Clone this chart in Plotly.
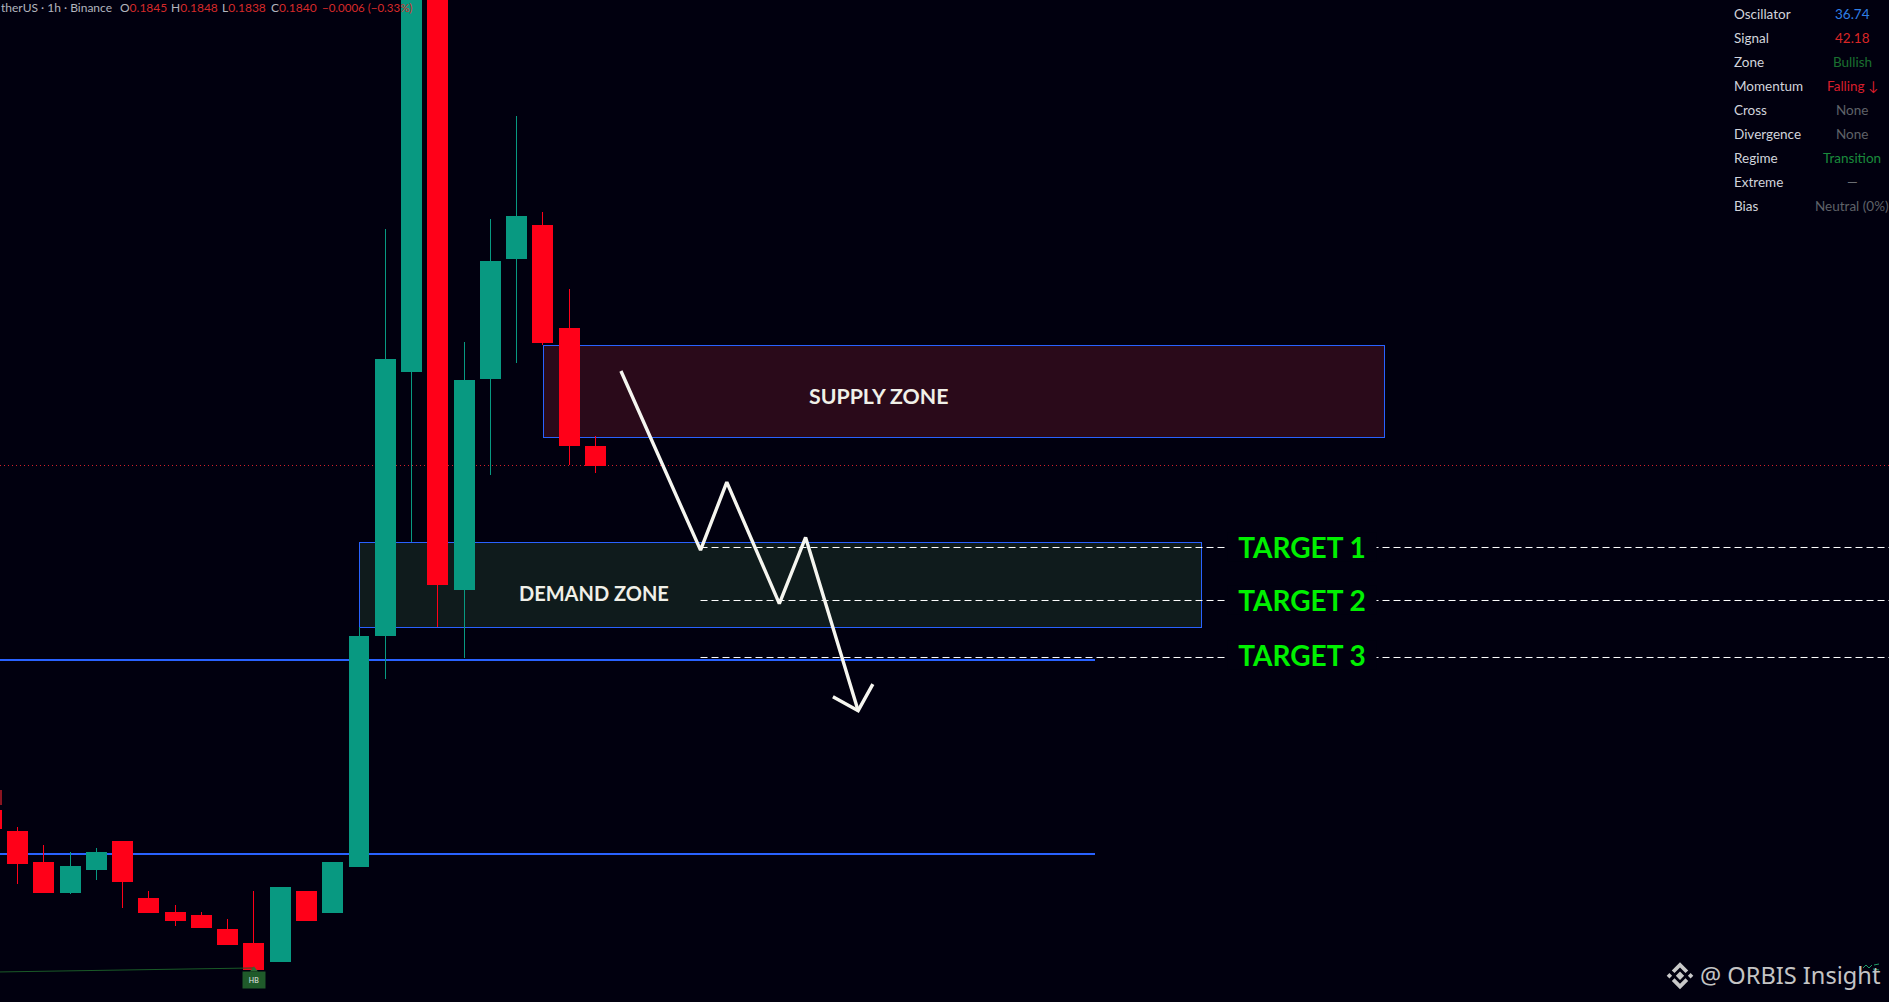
import plotly.graph_objects as go

# ---------- data ----------
candle_index = list(range(-1, 23))
open_ = [.17479,.17423,.17340,.17260,.17319,.17396,.17244,.17206,.17198,.17161,.17123,.17073,.17262,.17204,
         .17327,.17947,.18653,.1985,.18070,.18634,.18955,.19041,.18768,.1845]
high_ = [.17479,.17434,.17385,.17367,.17377,.17396,.17262,.17225,.17206,.17188,.17262,.17273,.17262,.17340,
         .17968,.19033,.1995,.1995,.18730,.19059,.19335,.19078,.18872,.1848]
low_  = [.17431,.17281,.17260,.17254,.17292,.17217,.17204,.17169,.17166,.17121,.17054,.17073,.17185,.17204,
         .17327,.17829,.18196,.17968,.17886,.18375,.18674,.18722,.18402,.1838]
close_= [.17431,.17337,.17260,.17329,.17367,.17289,.17204,.17185,.17166,.17121,.17054,.17273,.17185,.17340,
         .17942,.18685,.1995,.18081,.18629,.18947,.19067,.18728,.18455,.1840]

supply_zone = dict(x0=20.023, x1=52.037, y0=.184753, y1=.187212)
demand_zone = dict(x0=13.019, x1=45.071, y0=.179673, y1=.181945)
level_prices = [.178804, .173617]
level_end = 41.02
last_price = .184004
target_names = ["TARGET 1", "TARGET 2", "TARGET 3"]
target_prices = [.181812, .180395, .178871]
target_label_prices = [.18182, .18040, .17893]
target_start = 26.0
target_label_x = 48.9
path_x = [22.97, 26.0, 27.0, 29.0, 30.0, 32.0]
path_y = [.18653, .18174, .18356, .18031, .18208, .17745]
head_x = [31.04, 32.0, 32.56]
head_y = [.17782, .17745, .17816]
ma_x = [-1, 9]
ma_y = [.17046, .17057]
hb_x, hb_y = 9, .17025
edge_mark_y = [.17492, .17533]

header_labels = ["therUS · 1h · Binance", "O", "H", "L", "C"]
header_values = ["", "0.1845", "0.1848", "0.1838", "0.1840"]
header_change = "−0.0006 (−0.33%)"

table_labels = ["Oscillator","Signal","Zone","Momentum","Cross","Divergence","Regime","Extreme","Bias"]
table_values = ["36.74","42.18","Bullish","Falling ↓","None","None","Transition","—","Neutral (0%)"]
table_colors = ["#2f7fe6","#d92626","#1b7030","#d81e2c","#5f6268","#5f6268","#1a8a3c","#6a6d73","#5f6268"]

# ---------- style ----------
W, H = 1889, 1002
BG = "#01000f"
BLUE = "#2962ff"
GREEN = "#089981"
RED = "#ff0018"
UI = "Lato"
X_RANGE = [-0.666, 71.24]
Y_RANGE = [.16966, .19645]

fig = go.Figure()
fig.add_trace(go.Candlestick(
    x=candle_index, open=open_, high=high_, low=low_, close=close_,
    increasing=dict(line=dict(color=GREEN, width=1), fillcolor=GREEN),
    decreasing=dict(line=dict(color=RED, width=1), fillcolor=RED),
    whiskerwidth=0, hoverinfo="skip", showlegend=False))

# thin average line and HB marker
fig.add_trace(go.Scatter(x=ma_x, y=ma_y, mode="lines", line=dict(color="#1a5a28", width=1),
                         hoverinfo="skip", showlegend=False))
fig.add_trace(go.Scatter(x=[hb_x], y=[.17052], mode="markers",
                         marker=dict(symbol="triangle-up", size=7, color="#2e6b35"),
                         hoverinfo="skip", showlegend=False))

# target dashes
for p in target_prices:
    fig.add_trace(go.Scatter(x=[target_start, X_RANGE[1]], y=[p, p], mode="lines",
                             line=dict(color="#ffffff", width=1, dash="7px,4px"),
                             hoverinfo="skip", showlegend=False))
# arrow
for xs, ys in ((path_x, path_y), (head_x, head_y)):
    fig.add_trace(go.Scatter(x=xs, y=ys, mode="lines",
                             line=dict(color="#f6f6f0", width=3.4, shape="linear"),
                             hoverinfo="skip", showlegend=False))

shapes = []
for z, fill in ((supply_zone, "#2a0a1a"), (demand_zone, "#0f1b1c")):
    shapes.append(dict(type="rect", layer="below", fillcolor=fill,
                       line=dict(color=BLUE, width=1), **z))
for p in level_prices:
    shapes.append(dict(type="line", layer="below", x0=X_RANGE[0], x1=level_end, y0=p, y1=p,
                       line=dict(color=BLUE, width=2)))
shapes.append(dict(type="line", layer="below", x0=X_RANGE[0], x1=X_RANGE[1], y0=last_price, y1=last_price,
                   line=dict(color="#d0202c", width=1, dash="1px,3px")))
shapes.append(dict(type="rect", x0=-1, x1=-0.59, y0=edge_mark_y[0], y1=edge_mark_y[1], layer="below",
                   fillcolor="#8a1420", line=dict(width=0)))

# logo (paper coordinates from pixel offsets)
cx, cy = 1680, 975.7
def path(points, ox=cx, oy=cy, close=True):
    pts = [((ox + a) / W, 1 - (oy + b) / H) for a, b in points]
    return "M" + " L".join(f"{a:.5f},{b:.5f}" for a, b in pts) + (" Z" if close else "")
logo = [
    [(0,-4.2),(4.2,0),(0,4.2),(-4.2,0)],
    [(-10.6,-2.7),(-7.9,0),(-10.6,2.7),(-13.3,0)],
    [(10.6,-2.7),(13.3,0),(10.6,2.7),(7.9,0)],
    [(0,-13.5),(8.2,-5.3),(5.5,-2.6),(0,-8.1),(-5.5,-2.6),(-8.2,-5.3)],
    [(0,13.5),(8.2,5.3),(5.5,2.6),(0,8.1),(-5.5,2.6),(-8.2,5.3)],
]
for pts in logo:
    shapes.append(dict(type="path", xref="paper", yref="paper", path=path(pts),
                       fillcolor="#c9c9c9", line=dict(width=0)))

ann = []
# header
g = "#b2b5be"; r = "#d62a2a"
def c(t, col): return f'<span style="color:{col}">{t}</span>'
header_x = [-1, 118, 169, 220, 269]
for px, lab, val in zip(header_x, header_labels, header_values):
    ann.append(dict(xref="paper", yref="paper", x=px/W, y=1-8/H, xanchor="left", yanchor="middle",
                    text=c(lab, g) + c(val, r), showarrow=False, font=dict(family=UI, size=12, color=g)))
ann.append(dict(xref="paper", yref="paper", x=320/W, y=1-8/H, xanchor="left", yanchor="middle",
                text=header_change, showarrow=False, font=dict(family=UI, size=11.5, color=r)))
# table
for i, (lab, val, col) in enumerate(zip(table_labels, table_values, table_colors)):
    ypx = 14.3 + 24 * i
    ann.append(dict(xref="paper", yref="paper", x=1732/W, y=1-ypx/H, xanchor="left", yanchor="middle",
                    text=lab, showarrow=False, font=dict(family=UI, size=13.5, color="#d1d4dc")))
    ann.append(dict(xref="paper", yref="paper", x=1852/W, y=1-ypx/H, xanchor="center", yanchor="middle",
                    text=val, showarrow=False, font=dict(family=UI, size=13.5, color=col)))
# zones
ann.append(dict(x=32.78, y=.18587, text="<b>SUPPLY ZONE</b>", showarrow=False,
                font=dict(family=UI, size=21.3, color="#f0f0e8")))
ann.append(dict(x=21.95, y=.18059, text="<b>DEMAND ZONE</b>", showarrow=False,
                font=dict(family=UI, size=20, color="#f0f0e8")))
# targets
for n, p in zip(target_names, target_label_prices):
    ann.append(dict(x=target_label_x, y=p, text=f"<b>{n}</b>", showarrow=False, bgcolor=BG,
                    width=146, height=26, align="center",
                    font=dict(family=UI, size=28, color="#00f000")))
# HB
ann.append(dict(x=hb_x, y=hb_y, text="HB", showarrow=False, bgcolor="#1f5a2a", width=20, height=14,
                font=dict(family=UI, size=7, color="#e8e8e8")))
# watermark
ann.append(dict(xref="paper", yref="paper", x=1698/W, y=1-975/H, xanchor="left", yanchor="middle",
                text="@ ORBIS Insight", showarrow=False,
                font=dict(family="Noto Sans", size=23.6, color="#c4c4c4")))
# tiny mark on the watermark
for off in ([(-9,1),(-6,-2),(-3,1),(0,-2)], [(2,-2),(7,-3)], [(1,2),(7,3)]):
    shapes.append(dict(type="path", xref="paper", yref="paper", path=path(off, 1872, 967, close=False),
                       line=dict(color="#1f9d6a", width=1)))

fig.update_layout(
    width=W, height=H, margin=dict(l=0, r=0, t=0, b=0),
    paper_bgcolor=BG, plot_bgcolor=BG, boxgap=0.24, boxgroupgap=0, showlegend=False,
    xaxis=dict(range=X_RANGE, visible=False, rangeslider=dict(visible=False), fixedrange=True),
    yaxis=dict(range=Y_RANGE, visible=False, fixedrange=True),
    shapes=shapes, annotations=ann)

post = """
document.body.style.margin='0';document.body.style.overflow='hidden';
function crisp(){document.querySelectorAll('.boxlayer path, .shapelayer path').forEach(function(p){
  if(!p.closest('.layer-above')){p.style.shapeRendering='crispEdges';}});}
crisp();setTimeout(crisp,100);
"""
fig.write_html("out.html", config=dict(displayModeBar=False), post_script=post)
